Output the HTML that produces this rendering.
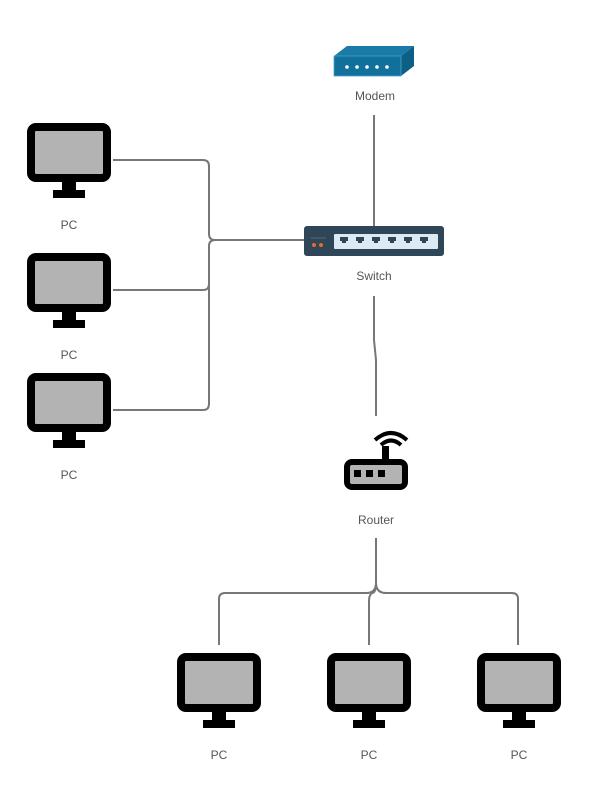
<!DOCTYPE html>
<html><head><style>
body{margin:0;background:#fff;width:609px;height:789px;overflow:hidden;font-family:"Liberation Sans",sans-serif}
.l{position:absolute;font-size:12px;color:#555;text-align:center;width:100px}
</style></head><body>
<svg width="609" height="789" style="position:absolute;left:0;top:0">
<defs>
<g id="pc">
<rect x="4" y="4" width="76" height="51" rx="5" fill="#b3b3b3" stroke="#000" stroke-width="8"/>
<rect x="35" y="59" width="14" height="9" fill="#000"/>
<rect x="26" y="67" width="32" height="8" fill="#000"/>
</g>
</defs>
<g fill="none" stroke="#777" stroke-width="2">
<path d="M113 160 H203 Q209 160 209 166 V234 Q209 240 215 240 H305"/>
<path d="M113 290 H203 Q209 290 209 284 V246 Q209 240 215 240"/>
<path d="M113 410 H203 Q209 410 209 404 V246"/>
<path d="M374 115 V226"/>
<path d="M374 296 V340 L376 360 V416"/>
<path d="M376 538 V583 Q376 593 366 593 H225 Q219 593 219 599 V645"/>
<path d="M376 583 Q376 593 386 593 H512 Q518 593 518 599 V645"/>
<path d="M376 583 Q376 593 372 593 Q369 595 369 601 V645"/>
</g>
<use href="#pc" x="27" y="123"/>
<use href="#pc" x="27" y="253"/>
<use href="#pc" x="27" y="373"/>
<use href="#pc" x="177" y="653"/>
<use href="#pc" x="327" y="653"/>
<use href="#pc" x="477" y="653"/>
<!-- modem -->
<polygon points="334,56 347,46 414,46 401,56" fill="#1a7aa8"/>
<polygon points="401,56 414,46 414,66 401,76" fill="#0e5f86"/>
<rect x="334" y="56" width="67" height="20" fill="#12709c"/>
<rect x="334" y="56" width="67" height="20" fill="none" stroke="#4aa0c8" stroke-width="0.8"/>
<g fill="#fff"><circle cx="347" cy="67" r="1.8"/><circle cx="357" cy="67" r="1.8"/><circle cx="367" cy="67" r="1.8"/><circle cx="377" cy="67" r="1.8"/><circle cx="387" cy="67" r="1.8"/></g>
<!-- switch -->
<rect x="304" y="226" width="140" height="30" rx="3" fill="#2f4659"/>
<rect x="334" y="234" width="104" height="15" rx="1" fill="#dbeaf3"/>
<circle cx="314" cy="245" r="2" fill="#e06c2e"/><circle cx="321" cy="245" r="2" fill="#e06c2e"/>
<line x1="311" y1="238" x2="326" y2="238" stroke="#55697a"/>
<g fill="#2f4659">
<path d="M340 237h8v4h-2v2h-4v-2h-2z"/><path d="M356 237h8v4h-2v2h-4v-2h-2z"/><path d="M372 237h8v4h-2v2h-4v-2h-2z"/><path d="M388 237h8v4h-2v2h-4v-2h-2z"/><path d="M404 237h8v4h-2v2h-4v-2h-2z"/><path d="M420 237h8v4h-2v2h-4v-2h-2z"/>
</g>
<!-- router -->
<rect x="347" y="462" width="58" height="25" rx="5" fill="#b3b3b3" stroke="#000" stroke-width="6"/>
<rect x="382" y="446" width="7" height="15" fill="#000"/>
<g fill="#000"><rect x="354" y="470" width="7" height="7"/><rect x="366" y="470" width="7" height="7"/><rect x="378" y="470" width="7" height="7"/></g>
<path d="M375 440 Q391 426 407 440" fill="none" stroke="#000" stroke-width="4"/>
<path d="M381 445 Q391 436 401 445" fill="none" stroke="#000" stroke-width="4"/>
</svg>
<div class="l" style="left:325px;top:89px">Modem</div>
<div class="l" style="left:324px;top:269px">Switch</div>
<div class="l" style="left:326px;top:513px">Router</div>
<div class="l" style="left:19px;top:218px">PC</div>
<div class="l" style="left:19px;top:348px">PC</div>
<div class="l" style="left:19px;top:468px">PC</div>
<div class="l" style="left:169px;top:748px">PC</div>
<div class="l" style="left:319px;top:748px">PC</div>
<div class="l" style="left:469px;top:748px">PC</div>
</body></html>
